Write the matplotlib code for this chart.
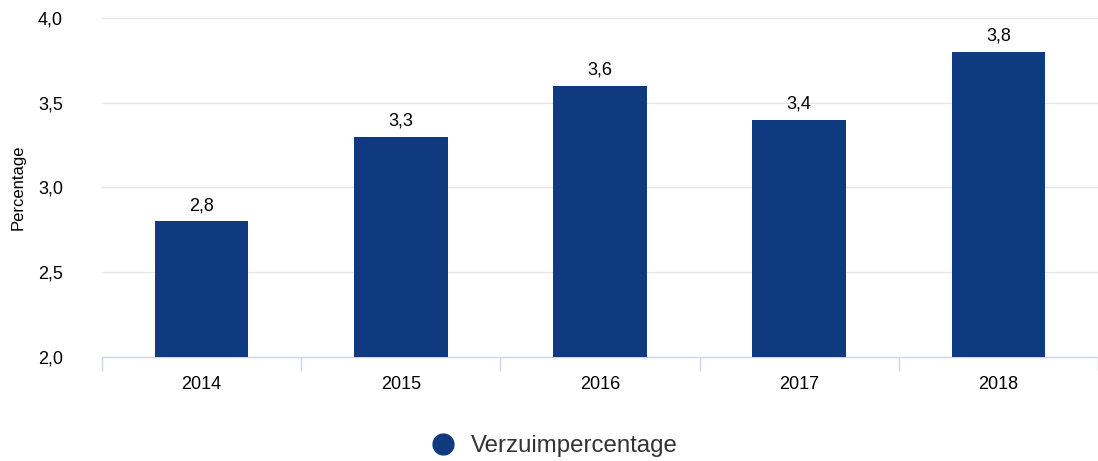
import matplotlib.pyplot as plt
from matplotlib.lines import Line2D
from matplotlib.ticker import FuncFormatter

plt.rcParams['font.family'] = ['Liberation Sans', 'DejaVu Sans']

years = ["2014", "2015", "2016", "2017", "2018"]
verzuim = [2.8, 3.3, 3.6, 3.4, 3.8]

bar_color = "#103a80"
axis_color = "#ccd6eb"
grid_color = "#e6e6e6"

fig = plt.figure(figsize=(10.98, 4.61), dpi=100)
ax = fig.add_axes([102 / 1098, 1 - 357 / 461, 996 / 1098, 339 / 461])

x = list(range(len(years)))
bars = ax.bar(x, verzuim, width=0.47, color=bar_color, zorder=3)

ax.set_xlim(-0.5, len(years) - 0.5)
ax.set_ylim(2.0, 4.0)
ax.set_yticks([2.0, 2.5, 3.0, 3.5, 4.0])
ax.yaxis.set_major_formatter(FuncFormatter(lambda v, p: f"{v:.1f}".replace(".", ",")))
for yv in [2.5, 3.0, 3.5, 4.0]:
    ax.axhline(yv, color=grid_color, lw=1, zorder=1, clip_on=False)

for s in ["top", "right", "left"]:
    ax.spines[s].set_visible(False)
ax.spines["bottom"].set_color(axis_color)
ax.spines["bottom"].set_linewidth(1)

ax.set_xticks(x)
ax.set_xticklabels(years, fontsize=13)
ax.tick_params(axis="x", length=0, pad=14)
ax.set_xticks([i - 0.5 for i in range(len(years) + 1)], minor=True)
ax.tick_params(axis="x", which="minor", length=10, color=axis_color, width=1)
ax.tick_params(axis="y", length=0, labelsize=13, pad=28)

ax.set_ylabel("Percentage", fontsize=12)
ax.yaxis.set_label_coords(-76 / 996, 0.5)

for xi, v in zip(x, verzuim):
    ax.annotate(f"{v:.1f}".replace(".", ","), (xi, v), xytext=(0, 5),
                textcoords="offset points", ha="center", va="bottom", fontsize=13)

handle = Line2D([], [], marker="o", linestyle="", markersize=15,
                markerfacecolor=bar_color, markeredgecolor=bar_color)
fig.legend([handle], ["Verzuimpercentage"], loc="center", bbox_to_anchor=(548 / 1098, 1 - 446 / 461),
           frameon=False, fontsize=17.3, handletextpad=0.15, labelcolor="#333333")

fig.savefig("out.png", dpi=100)
